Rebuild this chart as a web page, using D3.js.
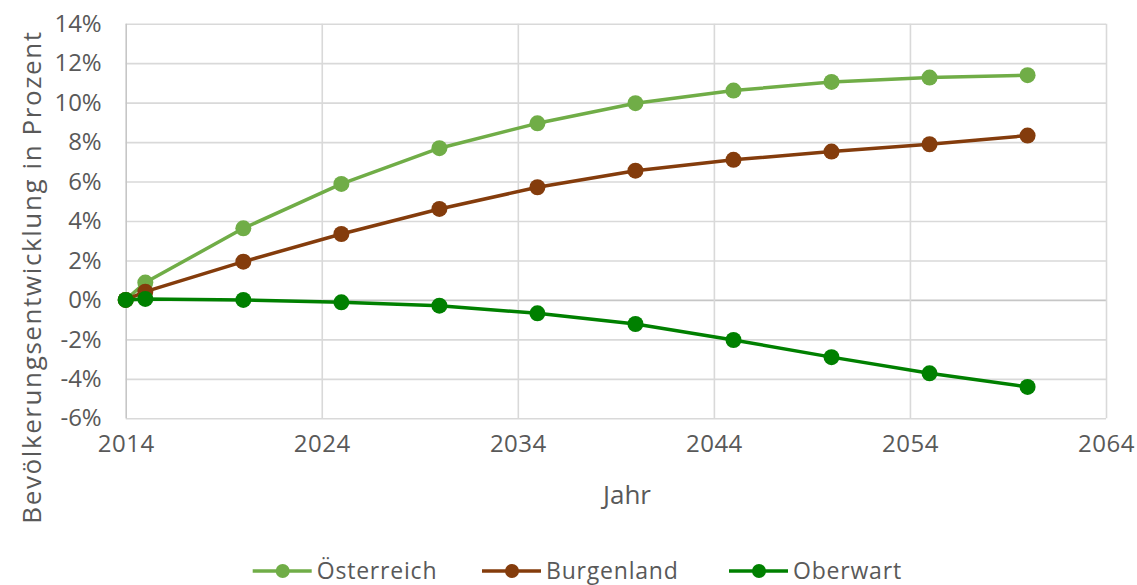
<!DOCTYPE html>
<html>
<head>
<meta charset="utf-8">
<script src="https://cdn.jsdelivr.net/npm/d3@7"></script>
<style>
  body { margin: 0; background: #fff; }
  svg text { font-family: "Open Sans", sans-serif; fill: #595959; }
</style>
</head>
<body>
<svg id="chart" width="1137" height="585"></svg>
<script>
// data
const years = [2014, 2015, 2020, 2025, 2030, 2035, 2040, 2045, 2050, 2055, 2060];
const oesterreich = [0, 0.88, 3.63, 5.88, 7.69, 8.95, 9.97, 10.61, 11.05, 11.27, 11.39];
const burgenland = [0, 0.42, 1.94, 3.34, 4.61, 5.71, 6.55, 7.10, 7.52, 7.89, 8.33];
const oberwart = [0, 0.05, 0.0, -0.12, -0.29, -0.68, -1.22, -2.03, -2.90, -3.72, -4.41];
const seriesNames = ["Österreich", "Burgenland", "Oberwart"];
const xTicks = [2014, 2024, 2034, 2044, 2054, 2064];
const yTicks = [-6, -4, -2, 0, 2, 4, 6, 8, 10, 12, 14];

const colors = ["#70AD47", "#843C0C", "#008000"];
const seriesValues = [oesterreich, burgenland, oberwart];

const svg = d3.select("#chart");

const x = d3.scaleLinear()
    .domain([2014, 2064])
    .range([125.7, 1106]);

const y = d3.scaleLinear()
    .domain([-6, 14])
    .range([418.3, 23.7]);

// horizontal gridlines + y labels
const yAxis = svg.append("g")
    .attr("transform", `translate(${x.range()[0]},0)`)
    .call(d3.axisLeft(y)
        .tickValues(yTicks)
        .tickFormat(d => d + "%")
        .tickSize(-(x.range()[1] - x.range()[0]))
        .tickPadding(24));

yAxis.select(".domain").remove();
yAxis.selectAll(".tick line")
    .attr("stroke", d => d === 0 ? "#c6c6c6" : "#d9d9d9")
    .attr("stroke-width", 1.6);
yAxis.selectAll(".tick text")
    .attr("font-size", 24)
    .attr("fill", "#595959");

// vertical gridlines + x labels
const xAxis = svg.append("g")
    .attr("transform", `translate(0,${y.range()[0]})`)
    .call(d3.axisBottom(x)
        .tickValues(xTicks)
        .tickFormat(d3.format("d"))
        .tickSize(-(y.range()[0] - y.range()[1]))
        .tickPadding(17));

xAxis.select(".domain").remove();
xAxis.selectAll(".tick line")
    .attr("stroke", d => d === 2014 ? "#c6c6c6" : "#d9d9d9")
    .attr("stroke-width", 1.6);
xAxis.selectAll(".tick text")
    .attr("font-size", 24)
    .attr("letter-spacing", 0.5)
    .attr("fill", "#595959");

// axis titles
svg.append("text")
    .attr("x", 627)
    .attr("y", 504)
    .attr("text-anchor", "middle")
    .attr("font-size", 26)
    .text("Jahr");

svg.append("text")
    .attr("transform", "translate(41,277) rotate(-90)")
    .attr("text-anchor", "middle")
    .attr("font-size", 26)
    .attr("letter-spacing", 1.6)
    .text("Bevölkerungsentwicklung in Prozent");

// lines and markers
const line = d3.line()
    .x((d, i) => x(years[i]))
    .y(d => y(d));

seriesValues.forEach((values, s) => {
    const g = svg.append("g");

    g.append("path")
        .datum(values)
        .attr("fill", "none")
        .attr("stroke", colors[s])
        .attr("stroke-width", 3.5)
        .attr("stroke-linejoin", "round")
        .attr("d", line);

    g.selectAll("circle")
        .data(values)
        .join("circle")
        .attr("cx", (d, i) => x(years[i]))
        .attr("cy", d => y(d))
        .attr("r", 8)
        .attr("fill", colors[s]);
});

// legend
const legendX = [252.7, 482, 729];
const legend = svg.append("g");

seriesNames.forEach((name, s) => {
    const lg = legend.append("g")
        .attr("transform", `translate(${legendX[s]},571)`);

    lg.append("line")
        .attr("x1", 0)
        .attr("x2", 59)
        .attr("stroke", colors[s])
        .attr("stroke-width", 3.5);

    lg.append("circle")
        .attr("cx", 30)
        .attr("r", 7)
        .attr("fill", colors[s]);

    lg.append("text")
        .attr("x", 64)
        .attr("dy", "0.35em")
        .attr("font-size", 23)
        .attr("letter-spacing", 0.8)
        .text(name);
});
</script>
</body>
</html>
